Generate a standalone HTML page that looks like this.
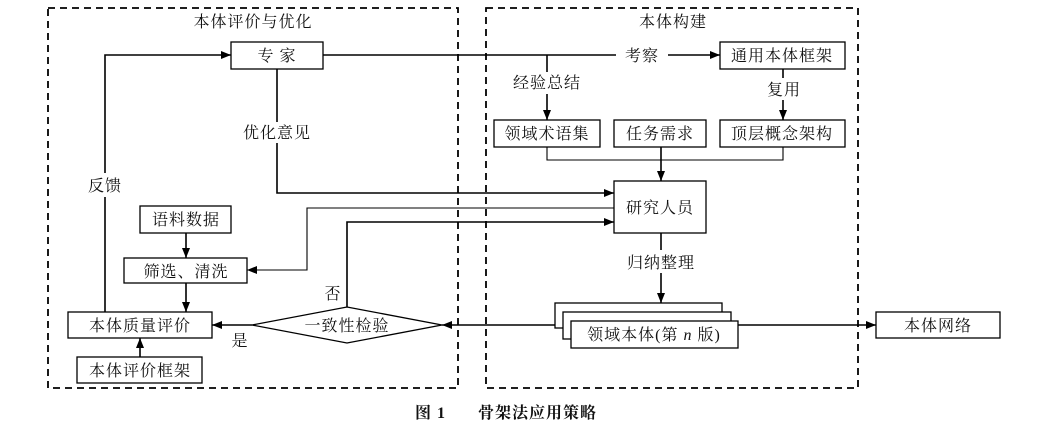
<!DOCTYPE html>
<html><head><meta charset="utf-8"><style>
body{margin:0;background:#fff;width:1041px;height:431px;overflow:hidden}
text{font-family:"Liberation Serif","Noto Serif CJK SC",serif;font-size:16px;fill:#111;letter-spacing:1px}
</style></head><body>
<svg width="1041" height="431" viewBox="0 0 1041 431" xmlns="http://www.w3.org/2000/svg">
<defs><marker id="a" markerWidth="10" markerHeight="8" refX="10" refY="4" orient="auto" markerUnits="userSpaceOnUse"><path d="M0,0L10,4L0,8z" fill="#000"/></marker></defs>
<g fill="none" stroke="#000" stroke-width="1.8" stroke-dasharray="7,5">
<rect x="48" y="8" width="410" height="380"/>
<rect x="486" y="8" width="372" height="380"/>
</g>
<g fill="#fff" stroke="#000" stroke-width="1.3">
<rect x="231" y="42" width="92" height="27"/>
<rect x="720" y="42" width="125" height="27"/>
<rect x="494" y="120" width="106" height="27"/>
<rect x="614" y="120" width="92" height="27"/>
<rect x="720" y="120" width="125" height="27"/>
<rect x="614" y="181" width="92" height="52"/>
<rect x="140" y="206" width="91" height="27"/>
<rect x="124" y="258" width="123" height="25"/>
<rect x="68" y="312" width="144" height="26"/>
<rect x="77" y="357" width="125" height="26"/>
<polygon points="252,325 347,307 442,325 347,343"/>
<rect x="555" y="303" width="167" height="25"/>
<rect x="563" y="312" width="168" height="27"/>
<rect x="571" y="321" width="167" height="27"/>
<rect x="876" y="312" width="124" height="26"/>
</g>
<g fill="none" stroke="#000" stroke-width="1.6">
<polyline points="105,312 105,197"/>
<polyline points="105,173 105,55 231,55" marker-end="url(#a)"/>
<line x1="323" y1="55" x2="616" y2="55"/>
<line x1="668" y1="55" x2="720" y2="55" marker-end="url(#a)"/>
<polyline points="547,55 547,72"/>
<line x1="547" y1="94" x2="547" y2="120" marker-end="url(#a)"/>
<line x1="783" y1="69" x2="783" y2="78"/>
<line x1="783" y1="100" x2="783" y2="120" marker-end="url(#a)"/>
<polyline points="277,69 277,122"/>
<polyline points="277,143 277,193 614,193" marker-end="url(#a)"/>
<polyline stroke-width="1.1" points="614,208 307,208 307,270 247,270" marker-end="url(#a)"/>
<polyline points="347,307 347,222 614,222" marker-end="url(#a)"/>
<polyline stroke-width="1.1" points="547,147 547,160 783,160 783,147"/>
<line x1="661" y1="147" x2="661" y2="181" marker-end="url(#a)"/>
<line x1="661" y1="233" x2="661" y2="250"/>
<line x1="661" y1="273" x2="661" y2="303" marker-end="url(#a)"/>
<line x1="186" y1="233" x2="186" y2="258" marker-end="url(#a)"/>
<line x1="186" y1="283" x2="186" y2="312" marker-end="url(#a)"/>
<line x1="140" y1="357" x2="140" y2="338" marker-end="url(#a)"/>
<line x1="252" y1="325" x2="212" y2="325" marker-end="url(#a)"/>
<line x1="555" y1="325" x2="442" y2="325" marker-end="url(#a)"/>
<line x1="738" y1="325" x2="876" y2="325" marker-end="url(#a)"/>
</g>
<g text-anchor="middle">
<text x="253" y="27">本体评价与优化</text>
<text x="673" y="27">本体构建</text>
<text x="277" y="61">专 家</text>
<text x="642" y="61">考察</text>
<text x="782" y="61">通用本体框架</text>
<text x="547" y="88">经验总结</text>
<text x="784" y="95">复用</text>
<text x="547" y="139">领域术语集</text>
<text x="660" y="139">任务需求</text>
<text x="782" y="139">顶层概念架构</text>
<text x="277" y="138">优化意见</text>
<text x="105" y="191">反馈</text>
<text x="660" y="213">研究人员</text>
<text x="186" y="225">语料数据</text>
<text x="661" y="268">归纳整理</text>
<text x="186" y="277">筛选、清洗</text>
<text x="333" y="299">否</text>
<text x="140" y="331">本体质量评价</text>
<text x="347" y="331">一致性检验</text>
<text x="240" y="346">是</text>
<text x="654" y="340">领域本体(第 <tspan font-style="italic">n</tspan> 版)</text>
<text x="938" y="331">本体网络</text>
<text x="140" y="376">本体评价框架</text>
</g>
<text x="415" y="418" font-size="20" font-weight="bold" letter-spacing="1">图 1</text>
<text x="478" y="418" font-size="20" font-weight="bold" letter-spacing="2">骨架法应用策略</text>
</svg>
</body></html>
